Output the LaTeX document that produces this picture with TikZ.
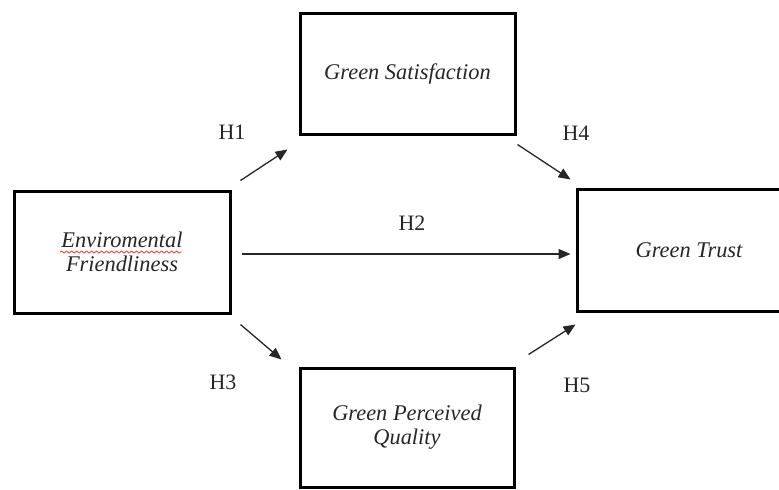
\documentclass[tikz,border=0pt]{standalone}
\usepackage{fontspec}
\setmainfont{Liberation Serif}[ItalicFont={Liberation Serif Italic}]
\usetikzlibrary{arrows.meta,calc,decorations.pathmorphing}
\begin{document}
\begin{tikzpicture}[x=0.5pt,y=-0.5pt,
  box/.style={draw=black,line width=1.5pt,rectangle,inner sep=0pt,align=center,
    font=\fontsize{11.2}{12}\selectfont\itshape,text=black!85},
  arr/.style={draw=black!85,line width=0.65pt,-{Triangle[length=6pt,width=5pt]}},
  hlab/.style={font=\fontsize{11}{12}\selectfont,text=black!85,inner sep=0pt}]
\useasboundingbox (0,0) rectangle (779,489);
\node[box,minimum width=108pt,minimum height=61pt] (env) at (122,252) {Enviromental\\Friendliness};
\node[box,minimum width=107.5pt,minimum height=60.5pt] (sat) at (407.5,73.5) {Green Satisfaction};
\node[box,minimum width=112pt,minimum height=61pt] (trust) at (689,250) {Green Trust};
\node[box,minimum width=107pt,minimum height=59.5pt] (gpq) at (407,427.5) {Green Perceived\\Quality};
\draw[red!80,line width=0.4pt,decorate,decoration={snake,amplitude=0.5pt,segment length=2.5pt}]
  ($(env.center)+(-62,0)$) -- ($(env.center)+(60,0)$);
\draw[arr] ($(env.north east)+(9,-9)$) -- ($(sat.south west)+(-11,14)$);
\draw[arr] ($(sat.south east)+(1,9)$) -- ($(trust.north west)+(-5,-8)$);
\draw[arr] ($(env.east)+(10,2)$) -- ($(trust.west)+(-5,4)$);
\draw[arr] ($(env.south east)+(9,10)$) -- ($(gpq.north west)+(-17,-7)$);
\draw[arr] ($(gpq.north east)+(13,-12)$) -- ($(trust.south west)+(0,12)$);
\node[hlab] (h1) at (232,132) {H1};
\node[hlab] (h2) at (412,223) {H2};
\node[hlab] (h3) at (223,382) {H3};
\node[hlab] (h4) at (576,133) {H4};
\node[hlab] (h5) at (577,385) {H5};
\end{tikzpicture}
\end{document}
